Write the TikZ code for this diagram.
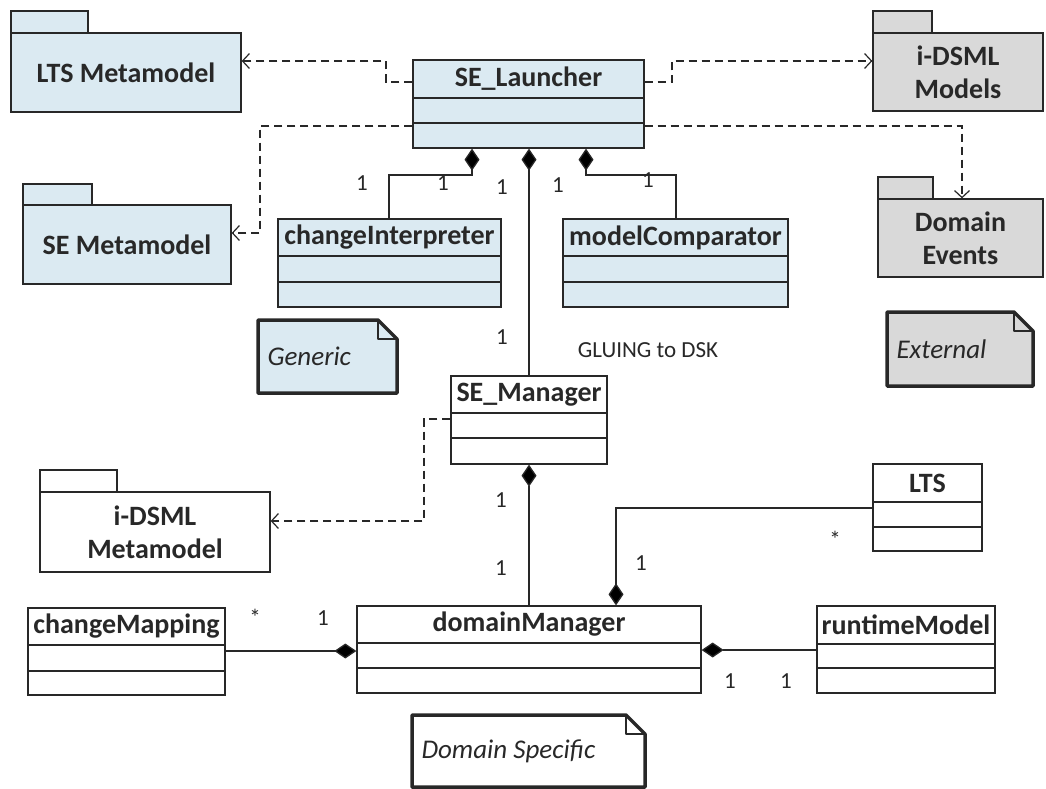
\documentclass[tikz,border=0pt]{standalone}
\usepackage{fontspec}
\setmainfont{Carlito}
\usetikzlibrary{arrows.meta,fit,calc}
\definecolor{lblue}{RGB}{219,234,242}
\definecolor{lgray}{RGB}{217,217,217}
\definecolor{ink}{RGB}{40,40,40}
\tikzset{
  x=1pt, y=-1pt,
  edge/.style={draw=ink, line width=1.3pt},
  boxname/.style={font=\fontsize{28}{33}\selectfont\bfseries, text=ink, align=center},
  mult/.style={font=\fontsize{23}{26}\selectfont, text=ink},
  notetext/.style={font=\fontsize{27}{30}\selectfont\itshape, text=ink, anchor=west},
  dep/.style={draw=ink, line width=1.2pt, dash pattern=on 8pt off 5pt, -{Straight Barb[length=7pt,width=15pt]}},
  comp/.style={draw=ink, line width=1.3pt, -{Diamond[length=22pt,width=15pt,fill=black]}},
}
\newcommand\umlclass[9]{%
  \node[fit={(#2,#3) (#4,#5)}, inner sep=0pt, edge, fill=#9] (#1) {};
  \draw[edge] (#2,#6) -- (#4,#6) (#2,#7) -- (#4,#7);
  \node[boxname] (#1-t) at ({(#2+#4)/2},{(#3+#6)/2}) {#8};
}
\newcommand\umlpkg[9]{%
  \draw[edge, fill=#9] (#2,#3) rectangle (#4,#5);
  \node[fit={(#2,#5) (#6,#7)}, inner sep=0pt, edge, fill=#9] (#1) {};
  \node[boxname] (#1-t) at (#1.center) {#8};
}
\newcommand\umlnote[7]{%
  \draw[draw=ink, line width=3.5pt, fill=#7, line join=round]
    (#2,#3) -- ({#4-19},#3) -- (#4,{#3+19}) -- (#4,#5) -- (#2,#5) -- cycle;
  \draw[draw=ink, line width=2pt, line join=round] ({#4-19},#3) -- ({#4-19},{#3+19}) -- (#4,{#3+19});
  \node[fit={(#2,#3) (#4,#5)}, inner sep=0pt] (#1) {};
  \node[notetext] (#1-t) at ({#2+6},{(#3+#5)/2}) {#6};
}
\begin{document}
\begin{tikzpicture}
\useasboundingbox[fill=white] (0,0) rectangle (1046,789);

% packages
\umlpkg{ltsmm}{11}{11}{88}{33}{241}{112}{LTS Metamodel}{lblue}
\umlpkg{semm}{23}{184}{92}{205}{231}{284}{SE Metamodel}{lblue}
\umlpkg{models}{873}{11}{932}{33}{1043}{111}{i-DSML\\Models}{lgray}
\umlpkg{events}{878}{177}{933}{199}{1043}{277}{Domain\\Events}{lgray}
\umlpkg{idsmlmm}{40}{470}{117}{492}{270}{572}{i-DSML\\Metamodel}{white}

% classes
\umlclass{launch}{413}{60}{644}{148}{98}{123}{SE\_Launcher}{lblue}
\umlclass{ci}{278}{219}{501}{307}{256}{282}{changeInterpreter}{lblue}
\umlclass{mc}{563}{219}{788}{307}{256}{282}{modelComparator}{lblue}
\umlclass{mgr}{451}{376}{607}{464}{413}{438}{SE\_Manager}{white}
\umlclass{lts}{873}{464}{982}{551}{502}{527}{LTS}{white}
\umlclass{dm}{357}{606}{701}{693}{643}{668}{domainManager}{white}
\umlclass{cm}{28}{608}{225}{695}{645}{671}{changeMapping}{white}
\umlclass{rm}{817}{606}{995}{693}{644}{668}{runtimeModel}{white}

% notes
\umlnote{generic}{258}{320}{397}{393}{Generic}{lblue}
\umlnote{external}{887}{312}{1033}{386}{External}{lgray}
\umlnote{dspec}{412}{715}{645}{787}{Domain Specific}{white}

% dependencies
\coordinate (d1) at (386,82);  \coordinate (d1b) at (386,61);
\draw[dep] (launch.west |- d1) -- (d1) -- (d1b) -- (ltsmm.east |- d1b);
\coordinate (d2) at (672,82);  \coordinate (d2b) at (672,61);
\draw[dep] (launch.east |- d2) -- (d2) -- (d2b) -- (models.west |- d2b);
\coordinate (d3) at (260,126); \coordinate (d3b) at (260,233);
\draw[dep] (launch.west |- d3) -- (d3) -- (d3b) -- (semm.east |- d3b);
\coordinate (d4) at (962,126);
\draw[dep] (launch.east |- d4) -- (d4) -- (events.north -| d4);
\coordinate (d5) at (424,419); \coordinate (d5b) at (424,521);
\draw[dep] (mgr.west |- d5) -- (d5) -- (d5b) -- (idsmlmm.east |- d5b);

% compositions
\coordinate (k1) at (389,175); \coordinate (k2) at (472,175);
\draw[comp] (ci.north -| k1) -- (k1) -- (k2) -- (launch.south -| k2);
\coordinate (k3) at (676,175); \coordinate (k4) at (586,175);
\draw[comp] (mc.north -| k3) -- (k3) -- (k4) -- (launch.south -| k4);
\coordinate (k5) at (529,0);
\draw[comp] (mgr.north -| k5) -- (launch.south -| k5);
\draw[comp] (dm.north -| k5) -- (mgr.south -| k5);
\coordinate (k6) at (616,508);
\draw[comp] (lts.west |- k6) -- (k6) -- (dm.north -| k6);
\coordinate (k7) at (0,651);
\draw[comp] (cm.east |- k7) -- (dm.west |- k7);
\coordinate (k8) at (0,650);
\draw[comp] (rm.west |- k8) -- (dm.east |- k8);

% multiplicities
\node[mult] (m1) at (362,183) {1};
\node[mult] (m2) at (443,183) {1};
\node[mult] (m3) at (502,187) {1};
\node[mult] (m4) at (558,185) {1};
\node[mult] (m5) at (648,180) {1};
\node[mult] (m6) at (502,337) {1};
\node[mult] (glue) at (648,350) {GLUING to DSK};
\node[mult] (m7) at (501,500) {1};
\node[mult] (m8) at (501,568) {1};
\node[mult] (m9) at (641,563) {1};
\node[mult] (m10) at (835,539) {*};
\node[mult] (m11) at (255,617) {*};
\node[mult] (m12) at (323,618) {1};
\node[mult] (m13) at (730,681) {1};
\node[mult] (m14) at (786,681) {1};
\end{tikzpicture}
\end{document}
